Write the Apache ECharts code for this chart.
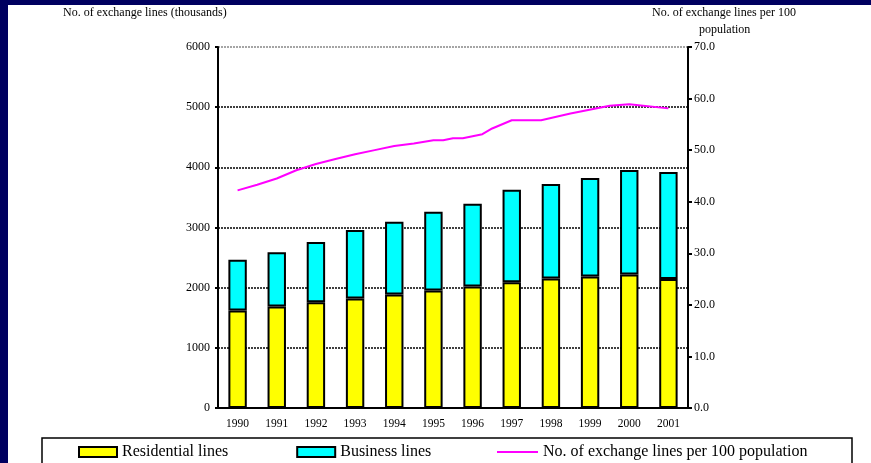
<!DOCTYPE html>
<html>
<head>
<meta charset="utf-8">
<script src="https://cdn.jsdelivr.net/npm/echarts@6/dist/echarts.min.js"></script>
<style>
  html, body { margin: 0; padding: 0; background: #fff; }
  #chart { width: 871px; height: 463px; }
</style>
</head>
<body>
<div id="chart"></div>
<script>
  "use strict";
  var years = ['1990','1991','1992','1993','1994','1995','1996','1997','1998','1999','2000','2001'];
  var residential = [1620, 1686, 1758, 1819, 1885, 1952, 2018, 2091, 2152, 2185, 2218, 2146];
  var business = [842, 904, 999, 1138, 1210, 1309, 1376, 1536, 1570, 1637, 1737, 1776];
  // per-100 line, read at finer steps than a year
  var perHundredX = [1990, 1990.5, 1991, 1991.5, 1992, 1992.5, 1993, 1993.5, 1994, 1994.5, 1995, 1995.25,
                     1995.5, 1995.75, 1996.25, 1996.5, 1997, 1997.75, 1998.5, 1999.5, 2000, 2001];
  var perHundredY = [42.2, 43.3, 44.5, 46.1, 47.3, 48.3, 49.2, 50.0, 50.8, 51.3, 51.9, 51.9,
                     52.3, 52.3, 53.1, 54.2, 55.8, 55.8, 57.1, 58.6, 58.9, 58.1];
  var leftTicks = [0, 6000, 1000];
  var rightTicks = [0, 70, 10];

  var FONT = '"Liberation Serif", "Times New Roman", serif';
  var chart = echarts.init(document.getElementById('chart'));

  var lineData = perHundredX.map(function(x, i){ return [x, perHundredY[i]]; });

  var option = {
    animation: false,
    backgroundColor: '#fff',
    textStyle: { fontFamily: FONT, color: '#000' },
    grid: { left: 218, right: 183, top: 47, bottom: 55 },
    legend: [{
      left: 73, top: 439, itemWidth: 38, itemHeight: 10, itemGap: 68, icon: 'rect',
      textStyle: { fontFamily: FONT, fontSize: 16, color: '#000' },
      data: ['Residential lines', 'Business lines']
    }, {
      left: 492, top: 439, itemWidth: 41, itemHeight: 2, icon: 'rect',
      textStyle: { fontFamily: FONT, fontSize: 16, color: '#000' },
      itemStyle: { color: '#ff00ff', borderWidth: 0 },
      data: ['No. of exchange lines per 100 population']
    }],
    xAxis: [{
      type: 'category', data: years,
      axisLine: { lineStyle: { color: '#000', width: 2 } },
      axisTick: { inside: true, length: 3, lineStyle: { color: '#000', width: 2 } },
      axisLabel: { fontFamily: FONT, fontSize: 11.5, color: '#000', margin: 10 }
    }, {
      type: 'value', min: 1989.5, max: 2001.5, show: false
    }],
    yAxis: [{
      type: 'value', min: leftTicks[0], max: leftTicks[1], interval: leftTicks[2],
      axisLine: { show: true, lineStyle: { color: '#000', width: 2 } },
      axisTick: { show: true, length: 3, lineStyle: { color: '#000', width: 2 } },
      axisLabel: { fontFamily: FONT, fontSize: 12, color: '#000', margin: 8,
        formatter: function(v){ return String(v); } },
      splitLine: { show: true, lineStyle: { color: ['#000','#000','#000','#000','#000','#000','#888'], type: [2, 1], width: 1.5 } }
    }, {
      type: 'value', min: rightTicks[0], max: rightTicks[1], interval: rightTicks[2], position: 'right',
      axisLine: { show: true, lineStyle: { color: '#000', width: 2 } },
      axisTick: { show: true, length: 4, lineStyle: { color: '#000', width: 2 } },
      axisLabel: { fontFamily: FONT, fontSize: 12, color: '#000', margin: 6,
        formatter: function(v){ return v.toFixed(1); } },
      splitLine: { show: false }
    }],
    graphic: [
      { type: 'rect', shape: { x: 42, y: 438, width: 810, height: 40 }, style: { fill: 'none', stroke: '#000', lineWidth: 1.5 }, z: 100 },
      { type: 'rect', shape: { x: 0, y: 0, width: 871, height: 5 }, style: { fill: '#000060' }, z: 100 },
      { type: 'rect', shape: { x: 0, y: 0, width: 8, height: 463 }, style: { fill: '#000060' }, z: 100 },
      { type: 'text', left: 63, top: 7, style: { text: 'No. of exchange lines (thousands)', font: '12px ' + FONT, fill: '#000' } },
      { type: 'text', left: 652, top: 7, style: { text: 'No. of exchange lines per 100', font: '12px ' + FONT, fill: '#000' } },
      { type: 'text', left: 699, top: 24, style: { text: 'population', font: '12px ' + FONT, fill: '#000' } }
    ],
    series: [{
      name: 'Residential lines', type: 'bar', stack: 'lines', data: residential, barWidth: '47%',
      itemStyle: { color: '#ffff00', borderColor: '#000', borderWidth: 2 }
    }, {
      name: 'Business lines', type: 'bar', stack: 'lines', data: business, barWidth: '47%',
      itemStyle: { color: '#00ffff', borderColor: '#000', borderWidth: 2 }
    }, {
      name: 'No. of exchange lines per 100 population', type: 'line', xAxisIndex: 1, yAxisIndex: 1,
      data: lineData, symbol: 'none', z: 5,
      lineStyle: { color: '#ff00ff', width: 2 }, itemStyle: { color: '#ff00ff' }
    }]
  };
  chart.setOption(option);
</script>
</body>
</html>
